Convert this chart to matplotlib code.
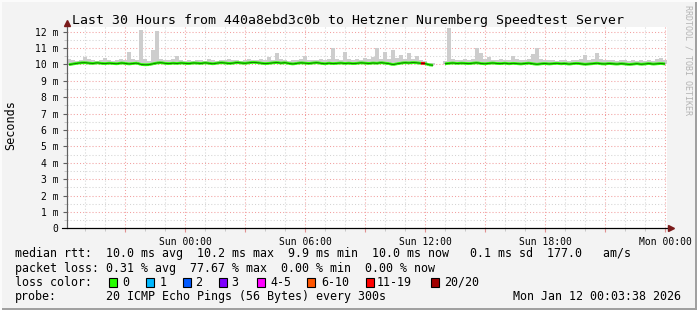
import numpy as np
import matplotlib.pyplot as plt
from matplotlib.lines import Line2D
from matplotlib.patches import Rectangle
from matplotlib.collections import LineCollection

W, H = 697, 310
MONO = 'DejaVu Sans Mono'

# time axis: hours relative to Sun 00:00, 12 minute steps over 30 hours
t_start = -5.9
step_h = 0.2

median_ms = [
    9.98, 10.02, 10.06, 10.09, 10.10, 10.07, 10.05, 10.09, 10.06, 10.04,
    10.07, 10.05, 10.03, 10.08, 10.06, 10.02, 10.05, 10.07, 9.99, 9.97,
    9.98, 10.03, 10.08, 10.10, 10.06, 10.04, 10.07, 10.05, 10.08, 10.06,
    10.04, 10.08, 10.07, 10.05, 10.09, 10.06, 10.03, 10.07, 10.10, 10.08,
    10.05, 10.07, 10.11, 10.08, 10.06, 10.09, 10.12, 10.10, 10.07, 10.04,
    10.06, 10.09, 10.11, 10.07, 10.10, 10.05, 10.02, 10.06, 10.09, 10.07,
    10.05, 10.08, 10.10, 10.06, 10.03, 10.07, 10.04, 10.06, 10.08, 10.05,
    10.07, 10.04, 10.06, 10.09, 10.07, 10.05, 10.08, 10.06, 10.10, 10.07,
    10.04, 9.98, 10.03, 10.07, 10.10, 10.08, 10.11, 10.09, 10.06, 10.05,
    9.97, 9.94, np.nan, np.nan, 10.03, 10.06, 10.08, 10.05, 10.07, 10.06,
    10.04, 10.07, 10.09, 10.05, 10.03, 10.06, 10.08, 10.05, 10.04, 10.07,
    10.03, 10.06, 10.04, 10.02, 10.05, 10.07, 10.03, 10.00, 10.03, 10.05,
    10.02, 10.04, 10.06, 10.03, 10.05, 10.01, 10.04, 10.06, 10.03, 10.00,
    10.02, 10.04, 10.07, 10.03, 10.02, 10.05, 10.03, 10.01, 10.04, 10.02,
    9.99, 10.01, 10.04, 10.00, 10.02, 10.05, 10.01, 10.03, 10.05, 10.02,
]

smoke_hi_ms = [
    10.30, 10.25, 10.22, 10.28, 10.45, 10.30, 10.24, 10.20, 10.26, 10.40,
    10.28, 10.22, 10.25, 10.30, 10.24, 10.75, 10.30, 10.26, 12.10, 10.30,
    10.22, 10.90, 12.00, 10.35, 10.25, 10.28, 10.30, 10.50, 10.26, 10.22,
    10.25, 10.20, 10.28, 10.24, 10.22, 10.30, 10.26, 10.22, 10.28, 10.25,
    10.32, 10.24, 10.28, 10.22, 10.26, 10.30, 10.28, 10.24, 10.30, 10.25,
    10.45, 10.28, 10.70, 10.30, 10.25, 10.22, 10.28, 10.24, 10.30, 10.50,
    10.26, 10.28, 10.24, 10.30, 10.26, 10.35, 11.00, 10.30, 10.28, 10.75,
    10.30, 10.26, 10.35, 10.28, 10.40, 10.30, 10.45, 11.00, 10.35, 10.75,
    10.30, 10.85, 10.40, 10.55, 10.30, 10.70, 10.35, 10.50, 10.28, 10.20,
    10.10, 10.05, np.nan, np.nan, 10.20, 12.20, 10.30, 10.26, 10.28, 10.30,
    10.25, 10.35, 11.00, 10.70, 10.30, 10.45, 10.28, 10.25, 10.30, 10.26,
    10.28, 10.50, 10.30, 10.25, 10.28, 10.35, 10.60, 11.00, 10.30, 10.26,
    10.25, 10.28, 10.22, 10.26, 10.25, 10.22, 10.28, 10.24, 10.30, 10.55,
    10.28, 10.35, 10.70, 10.30, 10.26, 10.25, 10.28, 10.22, 10.26, 10.24,
    10.20, 10.25, 10.22, 10.28, 10.20, 10.25, 10.22, 10.30, 10.40, 10.25,
]

# steps with packet loss (index, pings lost of 20)
loss_idx = [89]
loss_pings = [15]

loss_colors = ['#26ff00', '#00b8ff', '#0059ff', '#7e00ff',
               '#ff00ff', '#ff5500', '#ff0000', '#a10000']
loss_labels = ['0', '1', '2', '3', '4-5', '6-10', '11-19', '20/20']

x_tick_hours = [0, 6, 12, 18, 24]
x_tick_labels = ['Sun 00:00', 'Sun 06:00', 'Sun 12:00', 'Sun 18:00', 'Mon 00:00']
y_tick_vals = list(range(13))
y_tick_labels = ['0'] + [f'{v} m' for v in range(1, 13)]

legend_lines = [
    'median rtt:  10.0 ms avg  10.2 ms max  9.9 ms min  10.0 ms now   0.1 ms sd  177.0   am/s',
    'packet loss: 0.31 % avg  77.67 % max  0.00 % min  0.00 % now',
]
probe_text = '20 ICMP Echo Pings (56 Bytes) every 300s'
stamp_text = 'Mon Jan 12 00:03:38 2026'
title = 'Last 30 Hours from 440a8ebd3c0b to Hetzner Nuremberg Speedtest Server'
FS = 8.4


def fx(px):
    return px / W


def fy(py):
    return 1 - py / H


def bucket(n):
    if n <= 3:
        return n
    if n <= 5:
        return 4
    if n <= 10:
        return 5
    if n <= 19:
        return 6
    return 7


med = np.array(median_ms)
hi = np.array(smoke_hi_ms)
t = t_start + step_h * (np.arange(len(med)) + 0.5)

fig = plt.figure(figsize=(W / 100, H / 100), dpi=100)
fig.patch.set_facecolor('#f3f3f3')

y0_px, ytop_px = 228.3, 27.4
ax = fig.add_axes([fx(67), fy(y0_px), 600 / W, (y0_px - ytop_px) / H])
ax.set_facecolor('white')
ax.set_xlim(t_start, t_start + 30)
ax.set_ylim(0, 12.25)

# grid
ax.set_xticks(np.arange(-3, 25, 3))
ax.set_xticks(np.arange(-5, 25, 1), minor=True)
ax.set_yticks(y_tick_vals)
ax.set_yticks(np.arange(0.5, 12.5, 1), minor=True)
ax.grid(which='minor', color='#d4d4d4', linestyle=(0, (1, 2)), lw=0.75)
ax.grid(which='major', color='#f2a0a0', linestyle=(0, (1, 2)), lw=0.75)
ax.set_axisbelow(True)

xl = []
for h in np.arange(-3, 25, 3):
    xl.append(x_tick_labels[x_tick_hours.index(h)] if h in x_tick_hours else '')
ax.set_xticklabels(xl, fontfamily=MONO, fontsize=7)
ax.set_yticklabels(y_tick_labels, fontfamily=MONO, fontsize=7)
ax.tick_params(axis='x', which='major', length=3, color='#e09090', pad=3)
ax.tick_params(axis='x', which='minor', length=2, color='#c0c0c0')
ax.tick_params(axis='y', which='major', length=3, color='#606060', pad=3)
ax.tick_params(axis='y', which='minor', length=2, color='#c0c0c0')

for s in ['top', 'right']:
    ax.spines[s].set_visible(False)
ax.spines['left'].set_color('#606060')
ax.spines['bottom'].set_color('black')
ax.spines['left'].set_linewidth(0.8)
ax.spines['bottom'].set_linewidth(0.8)

# smoke
ok = np.isfinite(med) & np.isfinite(hi)
ax.bar(t[ok], hi[ok] - med[ok], bottom=med[ok], width=step_h * 0.8,
       color='#cdcdcd', linewidth=0, zorder=2)

# median line coloured by loss
colors = [loss_colors[0]] * len(med)
for i, n in zip(loss_idx, loss_pings):
    colors[i] = loss_colors[bucket(n)]
segs, segc = [], []
for i in range(len(med) - 1):
    if np.isfinite(med[i]) and np.isfinite(med[i + 1]):
        segs.append([(t[i], med[i]), (t[i + 1], med[i + 1])])
        segc.append(colors[i + 1])
ax.add_collection(LineCollection(segs, colors=segc, linewidths=2.0, zorder=3,
                                 capstyle='butt'))
ax.plot(t, med, color='black', lw=0.6, alpha=0.6, zorder=4)

# axis extensions and arrows
arrow_c = '#7a1a1a'
fig.add_artist(Line2D([fx(67), fx(67)], [fy(y0_px), fy(24)], color='#606060', lw=0.8))
fig.add_artist(Line2D([fx(62), fx(671)], [fy(y0_px), fy(y0_px)], color='black', lw=0.8))
fig.add_artist(Line2D([fx(67)], [fy(23)], marker='^', markersize=4.5, color=arrow_c, lw=0))
fig.add_artist(Line2D([fx(671)], [fy(y0_px)], marker='>', markersize=4.5, color=arrow_c, lw=0))

# title and labels
fig.text(fx(348.5), fy(24), title, ha='center', va='baseline',
         fontfamily=MONO, fontsize=9.5)
fig.text(fx(10.5), fy(125), 'Seconds', rotation=90, ha='center', va='center',
         fontfamily=MONO, fontsize=8.5)
fig.text(fx(688), fy(60), 'RRDTOOL / TOBI OETIKER', rotation=270, ha='center',
         va='center', fontfamily=MONO, fontsize=6, color='#b4b4b4')

# legend block
base = [257.5, 271.7, 285.9, 300.0]
for line, b in zip(legend_lines, base):
    fig.text(fx(15), fy(b), line, ha='left', va='baseline', fontfamily=MONO, fontsize=FS)
fig.text(fx(15), fy(base[2]), 'loss color:', ha='left', va='baseline',
         fontfamily=MONO, fontsize=FS)
box_x = [109, 146, 183, 219, 257, 307, 366, 431]
lab_x = [122.5, 159.5, 195.5, 231.5, 270.5, 321, 377, 444.5]
for c, lab, bx, lx in zip(loss_colors, loss_labels, box_x, lab_x):
    fig.add_artist(Rectangle((fx(bx), fy(286.5)), 8 / W, 9 / H, facecolor=c,
                             edgecolor='black', lw=0.8, transform=fig.transFigure))
    fig.text(fx(lx), fy(base[2]), lab, ha='left', va='baseline',
             fontfamily=MONO, fontsize=FS)
fig.text(fx(15), fy(base[3]), 'probe:', ha='left', va='baseline',
         fontfamily=MONO, fontsize=FS)
fig.text(fx(106), fy(base[3]), probe_text, ha='left', va='baseline',
         fontfamily=MONO, fontsize=FS)
fig.text(fx(681), fy(base[3]), stamp_text, ha='right', va='baseline',
         fontfamily=MONO, fontsize=FS)

# 3d frame
fig.add_artist(Rectangle((0, fy(310)), 1, 2 / H, facecolor='#a0a0a0', lw=0,
                         transform=fig.transFigure))
fig.add_artist(Rectangle((fx(695), 0), 2 / W, 1, facecolor='#a0a0a0', lw=0,
                         transform=fig.transFigure))
fig.add_artist(Rectangle((0, fy(2)), 1, 2 / H, facecolor='#fbfbfb', lw=0,
                         transform=fig.transFigure))
fig.add_artist(Rectangle((0, 0), 2 / W, 1, facecolor='#fbfbfb', lw=0,
                         transform=fig.transFigure))

fig.savefig('out.png', dpi=100, facecolor=fig.get_facecolor())
